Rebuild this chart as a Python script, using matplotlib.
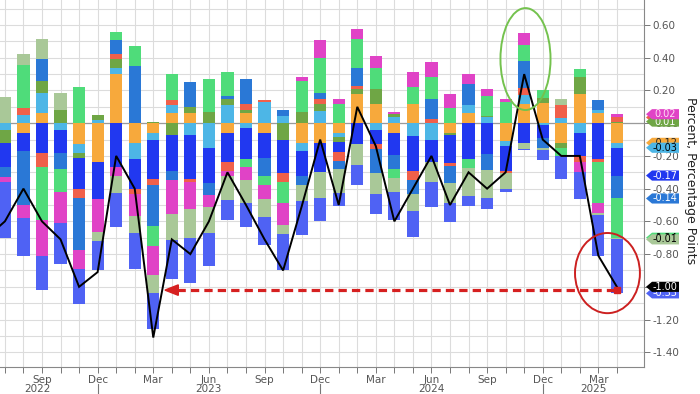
import numpy as np
import matplotlib
matplotlib.use("Agg")
import matplotlib.pyplot as plt
from matplotlib.patches import Ellipse, Polygon
import matplotlib.transforms as mtransforms

plt.rcParams['font.family'] = ['DejaVu Sans']
plt.rcParams['axes.unicode_minus'] = False

# months Jul 2022 .. Apr 2025 (index 0..33)
months = ["Jul", "Aug", "Sep", "Oct", "Nov", "Dec", "Jan", "Feb", "Mar", "Apr", "May", "Jun",
          "Jul", "Aug", "Sep", "Oct", "Nov", "Dec", "Jan", "Feb", "Mar", "Apr", "May", "Jun",
          "Jul", "Aug", "Sep", "Oct", "Nov", "Dec", "Jan", "Feb", "Mar", "Apr"]

orange = [0, -0.06, 0.06, 0, -0.125, -0.235, 0.30, -0.12, -0.06, 0.06, 0.06, 0, -0.06, 0.06, -0.06, 0,
          -0.12, -0.12, -0.057, 0.18, 0.12, -0.057, 0.12, 0, -0.06, 0.06, 0, -0.11, 0.12, 0.125, -0.12,
          0.18, 0.06, -0.12]
light_blue = [-0.04, 0.05, 0.125, -0.04, -0.055, 0.02, 0.035, -0.10, -0.045, 0.05, -0.07, -0.15, 0.11,
              -0.03, 0.13, 0.045, -0.05, 0.075, -0.03, 0, -0.04, 0.035, -0.08, -0.105, 0, 0.05, 0.037,
              -0.03, 0.05, -0.01, 0.03, -0.06, 0.02, -0.03]
dark_green = [-0.08, 0, 0.07, 0.08, -0.03, 0.03, 0.06, 0, 0.01, -0.07, 0.04, 0.07, 0.04, 0.02, 0, -0.105,
              0.07, 0.04, -0.03, 0.03, 0.09, 0.02, 0, 0, -0.015, 0, 0.01, 0, 0, 0.03, -0.03, 0.10, 0, 0.01]
bright_blue = [-0.15, -0.11, -0.18, -0.14, -0.19, -0.23, -0.265, -0.18, -0.235, -0.22, -0.27, -0.215,
               -0.18, -0.19, -0.155, -0.20, -0.155, -0.18, -0.06, -0.13, -0.085, -0.135, -0.21, -0.135,
               -0.17, -0.22, -0.19, -0.15, -0.12, -0.08, 0, -0.14, -0.22, -0.17]
salmon = [0, 0.04, -0.085, 0, -0.055, 0, 0.025, -0.03, -0.035, 0.03, -0.02, 0, -0.05, 0.04, 0.01, -0.055,
          0, 0.035, -0.055, 0.015, -0.03, 0, -0.055, 0.025, -0.015, 0, 0, -0.015, 0.045, 0, 0.08, -0.035,
          -0.015, 0.025]
mid_blue = [-0.06, -0.33, 0.14, -0.10, -0.32, 0, 0.09, 0.35, -0.255, -0.055, 0.15, -0.075, 0.015, 0.15,
            -0.11, 0.035, -0.05, 0.035, -0.047, 0.11, -0.15, -0.09, -0.09, 0.12, -0.105, 0.13, -0.095, 0,
            0.165, -0.06, 0, 0, 0.06, -0.14]
bright_green = [0, 0.265, -0.325, -0.14, 0.22, 0, 0.045, 0.12, -0.12, 0.16, 0, 0.20, 0.15, -0.045, -0.05,
                -0.125, 0.185, 0.215, 0.12, 0.18, 0.13, -0.05, 0.10, 0.14, 0.09, -0.055, 0.118, 0.13, 0.10,
                0.05, -0.05, 0.05, -0.255, -0.24]
magenta = [-0.03, -0.08, -0.22, -0.19, -0.115, -0.20, -0.06, -0.14, -0.175, -0.21, -0.165, -0.07, -0.03,
           -0.08, -0.09, -0.14, 0.025, 0.11, 0.025, 0.06, 0.07, 0.015, 0.095, 0.09, 0.09, 0.06, 0.045, 0.02,
           0.07, 0, 0, -0.065, -0.06, 0.02]
pale_green = [0.16, 0.065, 0.12, 0.105, 0, -0.055, -0.10, -0.10, -0.115, -0.16, -0.175, -0.16, -0.15,
              -0.14, -0.11, -0.05, -0.10, -0.155, -0.147, -0.125, -0.13, -0.09, -0.10, -0.12, -0.12, -0.17,
              -0.17, -0.10, -0.035, -0.015, 0.04, 0, -0.01, -0.01]
periwinkle = [-0.34, -0.23, -0.21, -0.25, -0.215, -0.18, -0.21, -0.22, -0.215, -0.24, -0.275, -0.205,
              -0.12, -0.15, -0.17, -0.225, -0.21, -0.14, -0.08, -0.12, -0.12, -0.17, -0.16, -0.155, -0.12,
              -0.06, -0.07, -0.015, -0.01, -0.06, -0.14, -0.165, -0.25, -0.33]

# total line, Jun 2022 .. Apr 2025 (index -1..33)
total = [-0.70, -0.60, -0.40, -0.60, -0.71, -1.00, -0.91, -0.20, -0.40, -1.31, -0.71, -0.80, -0.60,
         -0.30, -0.50, -0.71, -0.90, -0.51, -0.10, -0.50, 0.10, -0.14, -0.60, -0.40, -0.20, -0.50,
         -0.30, -0.40, -0.30, 0.30, -0.10, -0.20, -0.20, -0.81, -1.00]

series = [orange, light_blue, dark_green, bright_blue, salmon, mid_blue, bright_green, magenta,
          pale_green, periwinkle]
colors = ["#f7a93c", "#4db6e6", "#6fa645", "#2138f0", "#f0604a", "#2a78d6", "#4fdc7a", "#e043c6",
          "#a9c898", "#4f62f4"]
tag_text = ["#222222", "#000000", "#ffffff", "#ffffff", "#ffffff", "#ffffff", "#000000", "#ffe0f4",
            "#000000", "#ffffff"]

fig = plt.figure(figsize=(7.0, 3.94), dpi=100)
ax = fig.add_axes([0, 27 / 394, 644 / 700, 367 / 394])

x = np.arange(len(months))
pos = np.zeros(len(x))
neg = np.zeros(len(x))
ends = []
for vals, c in zip(series, colors):
    v = np.array(vals, dtype=float)
    bottoms = np.where(v >= 0, pos, neg)
    ax.bar(x, v, bottom=bottoms, width=0.66, color=c, zorder=3, linewidth=0)
    ends.append(bottoms[-1] + v[-1])
    pos = pos + np.where(v > 0, v, 0)
    neg = neg + np.where(v < 0, v, 0)

xt = np.arange(-1, len(months))
ax.plot(xt, total, color="black", lw=1.4, zorder=5, solid_joinstyle="miter")

ax.set_xlim(-0.264, 34.46)
ax.set_ylim(-1.49, 0.753)

# grid
ax.set_xticks(x)
lab = [m if m in ("Sep", "Dec", "Mar", "Jun") else "" for m in months]
ax.set_xticklabels(lab, fontsize=7.5, color="#555555")
ax.tick_params(axis="x", length=4, width=0.7, color="#777777", pad=2)
ax.set_yticks(np.arange(-1.4, 0.61, 0.2))
ax.set_yticks(np.arange(-1.4, 0.75, 0.1), minor=True)
ax.yaxis.tick_right()
ax.set_yticklabels(["%.2f" % v for v in np.arange(-1.4, 0.61, 0.2)], fontsize=7.5, color="#555555")
ax.tick_params(axis="y", which="major", length=4, width=0.7, color="#777777", pad=2)
ax.tick_params(axis="y", which="minor", length=0)
ax.grid(True, which="both", color="#dcdcdc", lw=0.8, zorder=0)
ax.set_axisbelow(True)
ax.axhline(0, color="#9a9a9a", lw=0.9, zorder=1)
for s in ["top", "left"]:
    ax.spines[s].set_visible(False)
ax.spines["right"].set_color("#888888")
ax.spines["bottom"].set_color("#888888")

# years
btr = mtransforms.blended_transform_factory(ax.transData, ax.transAxes)
for xv, yr in [(1.75, "2022"), (11, "2023"), (23, "2024"), (31.75, "2025")]:
    ax.text(xv, -0.06, yr, transform=btr, ha="center", va="center", fontsize=7.5, color="#555555")
for xv in [5, 17, 29]:
    ax.plot([xv, xv], [-0.047, -0.075], transform=btr, color="#777777", lw=0.8, clip_on=False)

# annotations
ax.add_patch(Ellipse((28.07, 0.392), 2.70, 0.623, fill=False, ec="#74c24e", lw=1.4, zorder=6))
ax.add_patch(Ellipse((32.49, -0.916), 3.50, 0.49, fill=False, ec="#cc2020", lw=1.4, zorder=6))
ay = -1.02
ax.plot([9.28, 33], [ay, ay], color="#d62020", lw=2.3, dashes=(2.6, 1.6), zorder=7)
ax.add_patch(Polygon([[8.63, ay], [9.35, ay + 0.032], [9.35, ay - 0.032]], closed=True,
                     color="#d62020", zorder=7))
ax.plot([33], [ay], marker="s", ms=4, color="#d62020", zorder=7)

# tags on right
ttr = mtransforms.blended_transform_factory(fig.transFigure, ax.transData)
h = 0.031
zc = [10]


def tag(y, val, fc, tc):
    x0, x1, x2 = 646 / 700, 652 / 700, 679 / 700
    poly = Polygon([[x0, y], [x1, y + h], [x2, y + h], [x2, y - h], [x1, y - h]], closed=True,
                   transform=ttr, fc=fc, ec="none", clip_on=False, zorder=zc[0])
    fig.add_artist(poly)
    fig.text(665 / 700, y, "%.2f" % val, transform=ttr, ha="center", va="center", fontsize=7,
             color=tc, zorder=zc[0] + 1)
    zc[0] += 2


order = [4, 6, 0, 1, 2, 7, 3, 5, 8, 9]
for i in order:
    v = series[i][-1]
    tag(ends[i], v, colors[i], tag_text[i])
tag(total[-1], total[-1], "#000000", "#ffffff")

fig.text(690 / 700, 1 - 181 / 394, "Percent, Percentage Points", rotation=270, ha="center",
         va="center", fontsize=9, color="#222222")

fig.savefig("out.png", dpi=100)
